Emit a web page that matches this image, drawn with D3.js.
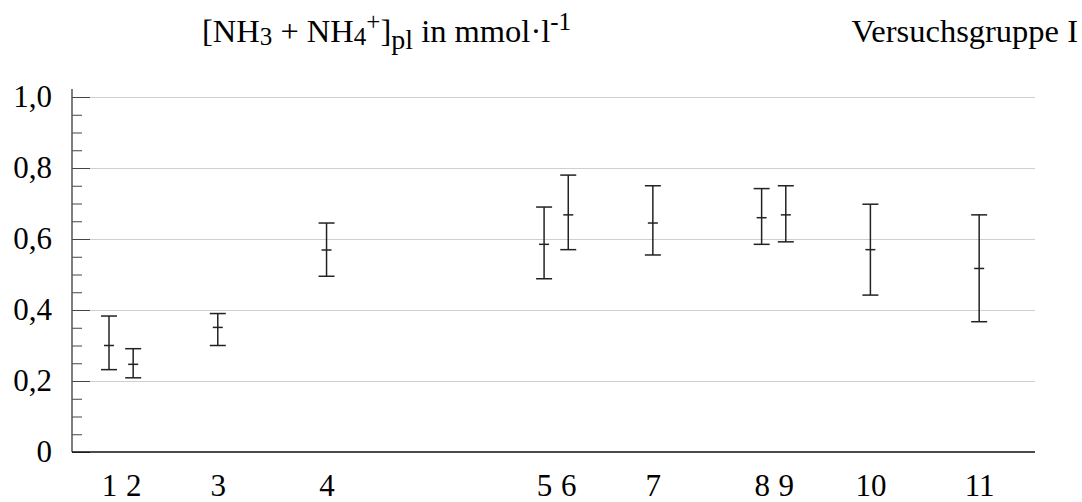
<!DOCTYPE html>
<html>
<head>
<meta charset="utf-8">
<script src="https://cdn.jsdelivr.net/npm/d3@7/dist/d3.min.js"></script>
<style>
  html, body { margin: 0; padding: 0; background: #fff; }
  svg { display: block; }
</style>
</head>
<body>
<svg id="chart" width="1082" height="502" font-family="Liberation Serif, Times New Roman, serif"></svg>
<script>
// Measurement points (group labels) and their positions on the time axis
const groups   = ["1", "2", "3", "4", "5", "6", "7", "8", "9", "10", "11"];
const timePos  = [0, 1, 4.5, 9, 18, 19, 22.5, 27, 28, 31.5, 36];
// Mean plasma ammonia and the ends of the error bars (mmol/l)
const means    = [0.300, 0.247, 0.351, 0.569, 0.585, 0.668, 0.645, 0.660, 0.668, 0.570, 0.517];
const upper    = [0.383, 0.291, 0.390, 0.645, 0.690, 0.780, 0.750, 0.742, 0.750, 0.698, 0.668];
const lower    = [0.232, 0.209, 0.300, 0.495, 0.488, 0.570, 0.555, 0.585, 0.592, 0.442, 0.367];
// Y axis ticks
const majorTicks = [0, 0.2, 0.4, 0.6, 0.8, 1.0];
const minorTicks = d3.range(0, 1.0001, 0.05);
const tickLabels = ["0", "0,2", "0,4", "0,6", "0,8", "1,0"];

const FONT = "Liberation Serif, Times New Roman, serif";
const svg = d3.select("#chart");
const plotLeft = 72, plotRight = 1035, plotTop = 97, plotBottom = 452;

const x = d3.scaleLinear().domain([-1.531, 38.31]).range([plotLeft, plotRight]);
const y = d3.scaleLinear().domain([0, 1]).range([plotBottom, plotTop]);

// horizontal grid lines
svg.append("g")
  .attr("transform", `translate(${plotLeft},0)`)
  .call(d3.axisRight(y).tickValues(majorTicks.filter(v => v > 0)).tickSize(plotRight - plotLeft).tickFormat(""))
  .call(g => g.select(".domain").remove())
  .call(g => g.selectAll("line").attr("stroke", "#cfcfcf").attr("stroke-width", 1.2));

// minor ticks
svg.append("g")
  .attr("transform", `translate(${plotLeft},0)`)
  .call(d3.axisRight(y).tickValues(minorTicks).tickSize(10).tickFormat(""))
  .call(g => g.select(".domain").remove())
  .call(g => g.selectAll("line").attr("stroke", "#444").attr("stroke-width", 1));

// major ticks
svg.append("g")
  .attr("transform", `translate(${plotLeft},0)`)
  .call(d3.axisRight(y).tickValues(majorTicks).tickSize(18).tickFormat(""))
  .call(g => g.select(".domain").remove())
  .call(g => g.selectAll("line").attr("stroke", "#444").attr("stroke-width", 1));

// y axis labels
svg.append("g")
  .attr("transform", `translate(${plotLeft},0)`)
  .call(d3.axisLeft(y).tickValues(majorTicks).tickSize(0).tickPadding(20)
        .tickFormat((d, i) => tickLabels[i]))
  .attr("font-family", FONT).attr("font-size", 31)
  .call(g => g.select(".domain").remove())
  .call(g => g.selectAll("text").attr("fill", "#000"));

// y axis line
svg.append("line")
  .attr("x1", plotLeft).attr("x2", plotLeft)
  .attr("y1", plotTop - 8).attr("y2", plotBottom)
  .attr("stroke", "#555").attr("stroke-width", 1.5);

// baseline
svg.append("line")
  .attr("x1", plotLeft).attr("x2", plotRight)
  .attr("y1", y(0)).attr("y2", y(0))
  .attr("stroke", "#111").attr("stroke-width", 1.5);

// x axis labels
svg.append("g")
  .attr("transform", `translate(0,${plotBottom})`)
  .call(d3.axisBottom(x).tickValues(timePos).tickSize(0).tickPadding(22)
        .tickFormat((d, i) => groups[i]))
  .attr("font-family", FONT).attr("font-size", 31)
  .call(g => g.select(".domain").remove())
  .call(g => g.selectAll("text").attr("fill", "#000"));

// error bars
const data = groups.map((g, i) => ({ g, t: timePos[i], m: means[i], lo: lower[i], hi: upper[i] }));
const capW = 8, meanW = 5;
const bars = svg.append("g").attr("stroke", "#222").attr("stroke-width", 1.5).attr("fill", "none");
const eb = bars.selectAll("g.bar").data(data).join("g").attr("class", "bar");
eb.append("line")
  .attr("x1", d => x(d.t)).attr("x2", d => x(d.t))
  .attr("y1", d => y(d.hi)).attr("y2", d => y(d.lo));
eb.append("line")
  .attr("x1", d => x(d.t) - capW).attr("x2", d => x(d.t) + capW)
  .attr("y1", d => y(d.hi)).attr("y2", d => y(d.hi));
eb.append("line")
  .attr("x1", d => x(d.t) - capW).attr("x2", d => x(d.t) + capW)
  .attr("y1", d => y(d.lo)).attr("y2", d => y(d.lo));
eb.append("line")
  .attr("x1", d => x(d.t) - meanW).attr("x2", d => x(d.t) + meanW)
  .attr("y1", d => y(d.m)).attr("y2", d => y(d.m));

// headings
const title = svg.append("text")
  .attr("x", 202).attr("y", 42)
  .attr("font-family", FONT).attr("font-size", 32.5).attr("fill", "#000");
title.append("tspan").text("[NH");
title.append("tspan").attr("dy", 3).attr("font-size", 25).text("3");
title.append("tspan").attr("dy", -3).text(" + NH");
title.append("tspan").attr("dy", 3).attr("font-size", 25).text("4");
title.append("tspan").attr("dy", -15).attr("font-size", 25).text("+");
title.append("tspan").attr("dy", 12).text("]");
title.append("tspan").attr("dy", 7).attr("font-size", 28).text("pl");
title.append("tspan").attr("dy", -7).text(" in mmol·l");
title.append("tspan").attr("dy", -12).attr("font-size", 25).text("-1");

svg.append("text")
  .attr("x", 1078).attr("y", 42)
  .attr("text-anchor", "end")
  .attr("font-family", FONT).attr("font-size", 32.5).attr("fill", "#000")
  .text("Versuchsgruppe I");
</script>
</body>
</html>
